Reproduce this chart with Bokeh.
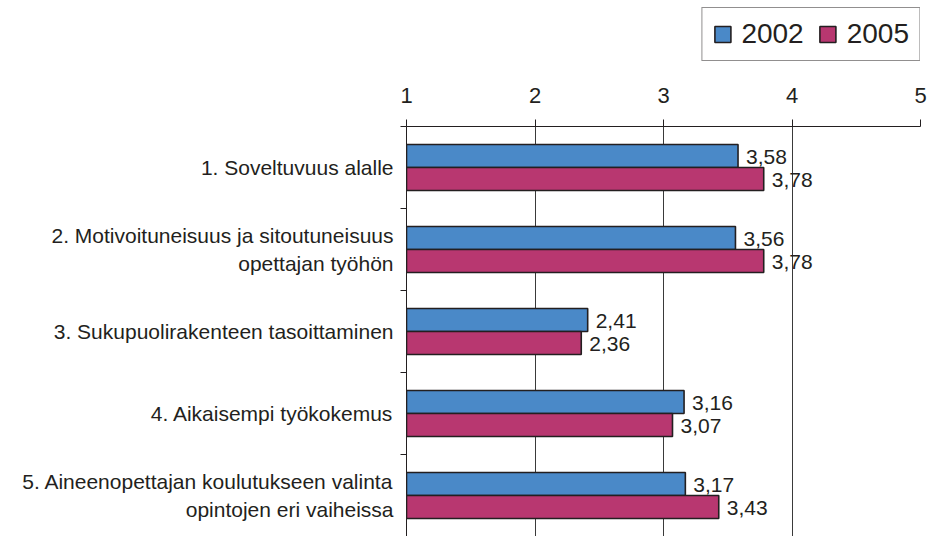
from bokeh.plotting import figure
from bokeh.layouts import column
from bokeh.models import Range1d, FixedTicker, ColumnDataSource, Legend, LegendItem
from bokeh.core.properties import value
from bokeh.embed import file_html
from bokeh.resources import INLINE

categories = [
    "1. Soveltuvuus alalle",
    "2. Motivoituneisuus ja sitoutuneisuus\nopettajan työhön",
    "3. Sukupuolirakenteen tasoittaminen",
    "4. Aikaisempi työkokemus",
    "5. Aineenopettajan koulutukseen valinta\nopintojen eri vaiheissa",
]
values_2002 = [3.58, 3.56, 2.41, 3.16, 3.17]
values_2005 = [3.78, 3.78, 2.36, 3.07, 3.43]
series_names = ["2002", "2005"]
x_ticks = [1, 2, 3, 4, 5]

TXT = "#231f20"
FONT = "Liberation Sans"
BLUE = "#4a89c8"
MAG = "#b83770"

n = len(categories)
centers = [i + 0.5 for i in range(n)]
bar_h = 0.28
colors = [BLUE, MAG]
offsets = [-0.14, 0.14]

LEG_H = 66
W = 931
H = 536

def fmt(v):
    return f"{v:.2f}".replace(".", ",")

sources = []
for vals, off in zip([values_2002, values_2005], offsets):
    sources.append(ColumnDataSource(dict(
        y=[c + off for c in centers],
        right=vals,
        left=[x_ticks[0]] * n,
        lbl=[fmt(v) for v in vals],
    )))

# ---- legend strip (its renderers are hidden; only the legend shows) ----
pl = figure(width=W, height=LEG_H, output_backend="svg", toolbar_location=None,
            x_range=Range1d(1, 5), y_range=Range1d(0, n),
            min_border_left=0, min_border_right=0, min_border_top=7, min_border_bottom=0)
pl.axis.visible = False
pl.grid.visible = False
pl.outline_line_color = None
items = []
for name, col, src in zip(series_names, colors, sources):
    r0 = pl.hbar(y="y", left="left", right="right", height=bar_h, source=src,
                 fill_color=col, line_color=TXT, line_width=1.6)
    r0.visible = False
    items.append(LegendItem(label=name, renderers=[r0]))
lg = Legend(items=items, orientation="horizontal", location="top_right")
lg.glyph_width = 20
lg.glyph_height = 20
lg.label_text_font = FONT
lg.label_text_font_size = "28px"
lg.label_text_color = TXT
lg.label_standoff = 9
lg.spacing = 14
lg.padding = 10
lg.margin = 0
lg.border_line_color = TXT
lg.border_line_width = 1
lg.background_fill_alpha = 1
lg.inactive_fill_alpha = 0
pl.add_layout(lg)

# ---- main chart ----
p = figure(width=W, height=H - LEG_H, output_backend="svg", toolbar_location=None,
           x_range=Range1d(1, 5), y_range=Range1d(n, 0),
           x_axis_location="above", min_border_left=406, min_border_right=11,
           min_border_top=126 - LEG_H, min_border_bottom=0)
p.outline_line_color = None
p.background_fill_color = "white"
p.border_fill_color = "white"

for name, col, src in zip(series_names, colors, sources):
    p.hbar(y="y", left="left", right="right", height=bar_h, source=src,
           fill_color=col, line_color=TXT, line_width=1.6)
    p.text(x="right", y="y", text="lbl", source=src, x_offset=8, y_offset=1,
           text_font=value(FONT), text_font_size="21px", text_color=TXT,
           text_baseline="middle", text_align="left")

xa = p.xaxis[0]
xa.ticker = FixedTicker(ticks=x_ticks)
xa.minor_tick_line_color = None
xa.major_tick_out = 7
xa.major_tick_in = 0
xa.major_label_standoff = 17
xa.major_label_text_font = FONT
xa.major_label_text_font_size = "22px"
xa.major_label_text_color = TXT
xa.axis_line_color = TXT
xa.major_tick_line_color = TXT

ya = p.yaxis[0]
ya.ticker = FixedTicker(ticks=centers, minor_ticks=list(range(n + 1)))
ya.major_label_overrides = {c: lab for c, lab in zip(centers, categories)}
ya.major_tick_out = 0
ya.major_tick_in = 0
ya.minor_tick_out = 6
ya.minor_tick_in = 0
ya.minor_tick_line_color = TXT
ya.axis_line_color = TXT
ya.major_label_standoff = 7
ya.major_label_text_font = FONT
ya.major_label_text_font_size = "21px"
ya.major_label_text_color = TXT

p.xgrid.grid_line_color = "#3a3a3a"
p.xgrid.grid_line_width = 1
p.ygrid.grid_line_color = None

layout = column(pl, p, spacing=0)
open("out.html", "w").write(file_html(layout, INLINE))
